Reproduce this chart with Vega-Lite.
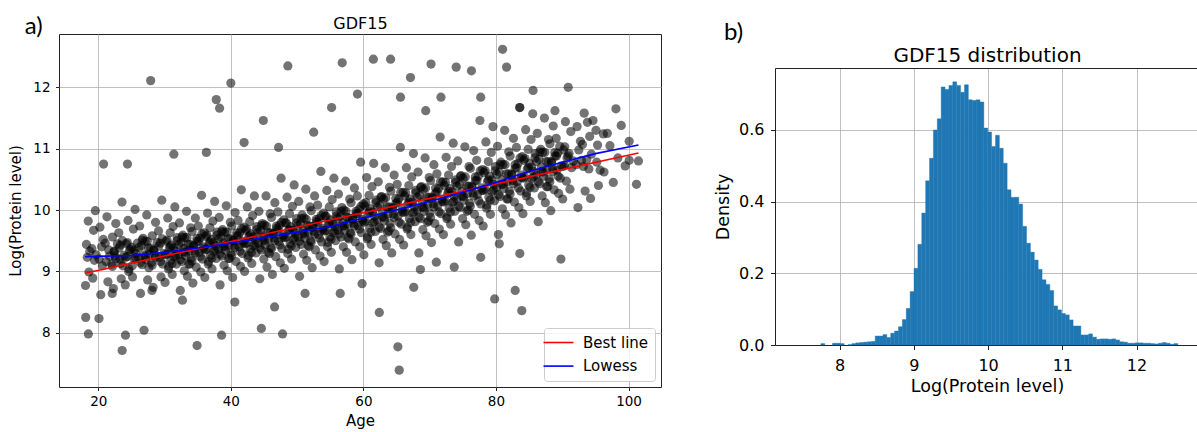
{
"$schema": "https://vega.github.io/schema/vega-lite/v6.json",
"usermeta": {"embedOptions": {"actions": false}},
"background": "white",
"padding": {"left": 8, "top": 14, "right": 0, "bottom": 0},
"spacing": 52,
"resolve": {"legend": {"color": "independent"}, "scale": {"color": "independent"}},
"datasets": {
"pts": [
{"a":18.07,"p":8.77},{"a":18.21,"p":9.44},{"a":18.34,"p":9.23},{"a":18.48,"p":9.82},{"a":18.59,"p":8.99},{"a":18.72,"p":9.33},
{"a":19.03,"p":9.37},{"a":19.16,"p":8.89},{"a":19.29,"p":9.67},{"a":19.42,"p":9.18},{"a":19.55,"p":9.99},{"a":19.66,"p":9.27},
{"a":20.11,"p":9.2},{"a":20.24,"p":9.72},{"a":20.37,"p":8.62},{"a":20.5,"p":9.4},{"a":20.61,"p":9.09},{"a":20.75,"p":9.52},
{"a":21.05,"p":9.46},{"a":21.18,"p":9.16},{"a":21.31,"p":9.89},{"a":21.45,"p":8.83},{"a":21.57,"p":9.35},{"a":21.69,"p":9.25},
{"a":22.02,"p":9.12},{"a":22.14,"p":9.56},{"a":22.27,"p":8.72},{"a":22.39,"p":9.32},{"a":22.53,"p":9.25},{"a":22.64,"p":9.78},
{"a":23.09,"p":9.63},{"a":23.2,"p":9.2},{"a":23.33,"p":9.43},{"a":23.46,"p":8.88},{"a":23.58,"p":10.13},{"a":23.71,"p":9.09},
{"a":24.07,"p":8.78},{"a":24.21,"p":9.45},{"a":24.34,"p":9.24},{"a":24.48,"p":9.83},{"a":24.59,"p":9.0},{"a":24.72,"p":9.34},
{"a":25.03,"p":9.39},{"a":25.16,"p":8.91},{"a":25.29,"p":9.69},{"a":25.42,"p":9.2},{"a":25.55,"p":10.01},{"a":25.66,"p":9.29},
{"a":26.11,"p":9.22},{"a":26.24,"p":9.74},{"a":26.37,"p":8.64},{"a":26.5,"p":9.42},{"a":26.61,"p":9.11},{"a":26.75,"p":9.54},
{"a":27.05,"p":9.49},{"a":27.18,"p":9.19},{"a":27.31,"p":9.92},{"a":27.45,"p":8.86},{"a":27.57,"p":9.38},{"a":27.69,"p":9.28},
{"a":28.02,"p":9.14},{"a":28.14,"p":9.58},{"a":28.27,"p":8.74},{"a":28.39,"p":9.34},{"a":28.53,"p":9.27},{"a":28.64,"p":9.8},
{"a":29.09,"p":9.66},{"a":29.2,"p":9.23},{"a":29.33,"p":9.46},{"a":29.46,"p":8.91},{"a":29.58,"p":10.16},{"a":29.71,"p":9.12},
{"a":30.07,"p":8.82},{"a":30.21,"p":9.49},{"a":30.34,"p":9.28},{"a":30.48,"p":9.87},{"a":30.59,"p":9.04},{"a":30.72,"p":9.38},{"a":30.85,"p":9.63},{"a":30.94,"p":9.18},
{"a":31.03,"p":9.43},{"a":31.16,"p":8.95},{"a":31.29,"p":9.73},{"a":31.42,"p":9.24},{"a":31.55,"p":10.05},{"a":31.66,"p":9.33},{"a":31.79,"p":9.12},{"a":31.91,"p":9.55},
{"a":32.11,"p":9.27},{"a":32.24,"p":9.79},{"a":32.37,"p":8.69},{"a":32.5,"p":9.47},{"a":32.61,"p":9.16},{"a":32.75,"p":9.59},{"a":32.88,"p":9.37},{"a":32.97,"p":9.01},
{"a":33.05,"p":9.55},{"a":33.18,"p":9.25},{"a":33.31,"p":9.98},{"a":33.45,"p":8.92},{"a":33.57,"p":9.44},{"a":33.69,"p":9.34},{"a":33.82,"p":9.12},{"a":33.93,"p":9.71},
{"a":34.02,"p":9.21},{"a":34.14,"p":9.65},{"a":34.27,"p":8.81},{"a":34.39,"p":9.41},{"a":34.53,"p":9.34},{"a":34.64,"p":9.87},{"a":34.77,"p":9.07},{"a":34.9,"p":9.49},
{"a":35.09,"p":9.74},{"a":35.2,"p":9.31},{"a":35.33,"p":9.54},{"a":35.46,"p":8.99},{"a":35.58,"p":10.24},{"a":35.71,"p":9.2},{"a":35.83,"p":9.4},{"a":35.98,"p":9.63},
{"a":36.07,"p":8.9},{"a":36.21,"p":9.57},{"a":36.34,"p":9.36},{"a":36.48,"p":9.95},{"a":36.59,"p":9.12},{"a":36.72,"p":9.46},{"a":36.85,"p":9.71},{"a":36.94,"p":9.26},
{"a":37.03,"p":9.52},{"a":37.16,"p":9.04},{"a":37.29,"p":9.82},{"a":37.42,"p":9.33},{"a":37.55,"p":10.14},{"a":37.66,"p":9.42},{"a":37.79,"p":9.21},{"a":37.91,"p":9.64},
{"a":38.11,"p":9.36},{"a":38.24,"p":9.88},{"a":38.37,"p":8.78},{"a":38.5,"p":9.56},{"a":38.61,"p":9.25},{"a":38.75,"p":9.68},{"a":38.88,"p":9.46},{"a":38.97,"p":9.1},
{"a":39.05,"p":9.64},{"a":39.18,"p":9.34},{"a":39.31,"p":10.07},{"a":39.45,"p":9.01},{"a":39.57,"p":9.53},{"a":39.69,"p":9.43},{"a":39.82,"p":9.21},{"a":39.93,"p":9.8},
{"a":40.02,"p":9.3},{"a":40.14,"p":9.74},{"a":40.27,"p":8.9},{"a":40.39,"p":9.5},{"a":40.53,"p":9.43},{"a":40.64,"p":9.96},{"a":40.77,"p":9.16},{"a":40.9,"p":9.58},
{"a":41.09,"p":9.83},{"a":41.2,"p":9.4},{"a":41.33,"p":9.63},{"a":41.46,"p":9.08},{"a":41.58,"p":10.33},{"a":41.71,"p":9.29},{"a":41.83,"p":9.49},{"a":41.98,"p":9.72},
{"a":42.07,"p":9.0},{"a":42.21,"p":9.67},{"a":42.34,"p":9.46},{"a":42.48,"p":10.05},{"a":42.59,"p":9.22},{"a":42.72,"p":9.56},{"a":42.85,"p":9.81},{"a":42.94,"p":9.36},
{"a":43.03,"p":9.61},{"a":43.16,"p":9.13},{"a":43.29,"p":9.91},{"a":43.42,"p":9.42},{"a":43.55,"p":10.23},{"a":43.66,"p":9.51},{"a":43.79,"p":9.3},{"a":43.91,"p":9.73},
{"a":44.11,"p":9.46},{"a":44.24,"p":9.98},{"a":44.37,"p":8.88},{"a":44.5,"p":9.66},{"a":44.61,"p":9.35},{"a":44.75,"p":9.78},{"a":44.88,"p":9.56},{"a":44.97,"p":9.2},
{"a":45.05,"p":9.76},{"a":45.18,"p":9.43},{"a":45.31,"p":10.23},{"a":45.45,"p":9.07},{"a":45.57,"p":9.64},{"a":45.69,"p":9.53},{"a":45.82,"p":9.29},{"a":45.93,"p":9.94},
{"a":46.02,"p":9.39},{"a":46.14,"p":9.88},{"a":46.27,"p":8.95},{"a":46.39,"p":9.61},{"a":46.53,"p":9.54},{"a":46.64,"p":10.12},{"a":46.77,"p":9.24},{"a":46.9,"p":9.7},
{"a":47.09,"p":9.97},{"a":47.2,"p":9.49},{"a":47.33,"p":9.75},{"a":47.46,"p":9.14},{"a":47.58,"p":10.52},{"a":47.71,"p":9.37},{"a":47.83,"p":9.59},{"a":47.98,"p":9.84},
{"a":48.07,"p":9.05},{"a":48.21,"p":9.79},{"a":48.34,"p":9.56},{"a":48.48,"p":10.21},{"a":48.59,"p":9.29},{"a":48.72,"p":9.67},{"a":48.85,"p":9.94},{"a":48.94,"p":9.45},
{"a":49.03,"p":9.73},{"a":49.16,"p":9.2},{"a":49.29,"p":10.06},{"a":49.42,"p":9.52},{"a":49.55,"p":10.41},{"a":49.66,"p":9.62},{"a":49.79,"p":9.39},{"a":49.91,"p":9.86},
{"a":50.11,"p":9.56},{"a":50.24,"p":10.14},{"a":50.37,"p":8.92},{"a":50.5,"p":9.78},{"a":50.61,"p":9.44},{"a":50.75,"p":9.92},{"a":50.88,"p":9.67},{"a":50.97,"p":9.28},
{"a":51.05,"p":9.87},{"a":51.18,"p":9.54},{"a":51.31,"p":10.34},{"a":51.45,"p":9.18},{"a":51.57,"p":9.75},{"a":51.69,"p":9.64},{"a":51.82,"p":9.4},{"a":51.93,"p":10.05},
{"a":52.02,"p":9.5},{"a":52.14,"p":9.99},{"a":52.27,"p":9.06},{"a":52.39,"p":9.72},{"a":52.53,"p":9.65},{"a":52.64,"p":10.23},{"a":52.77,"p":9.35},{"a":52.9,"p":9.81},
{"a":53.09,"p":10.08},{"a":53.2,"p":9.6},{"a":53.33,"p":9.86},{"a":53.46,"p":9.25},{"a":53.58,"p":10.63},{"a":53.71,"p":9.48},{"a":53.83,"p":9.7},{"a":53.98,"p":9.95},
{"a":54.07,"p":9.16},{"a":54.21,"p":9.9},{"a":54.34,"p":9.67},{"a":54.48,"p":10.32},{"a":54.59,"p":9.4},{"a":54.72,"p":9.78},{"a":54.85,"p":10.05},{"a":54.94,"p":9.56},
{"a":55.03,"p":9.84},{"a":55.16,"p":9.31},{"a":55.29,"p":10.17},{"a":55.42,"p":9.63},{"a":55.55,"p":10.52},{"a":55.66,"p":9.73},{"a":55.79,"p":9.5},{"a":55.91,"p":9.97},
{"a":56.11,"p":9.68},{"a":56.24,"p":10.26},{"a":56.37,"p":9.04},{"a":56.5,"p":9.9},{"a":56.61,"p":9.56},{"a":56.75,"p":10.04},{"a":56.88,"p":9.79},{"a":56.97,"p":9.4},
{"a":57.05,"p":10.0},{"a":57.18,"p":9.67},{"a":57.31,"p":10.47},{"a":57.45,"p":9.31},{"a":57.57,"p":9.88},{"a":57.69,"p":9.77},{"a":57.82,"p":9.53},{"a":57.93,"p":10.18},
{"a":58.02,"p":9.63},{"a":58.14,"p":10.12},{"a":58.27,"p":9.19},{"a":58.39,"p":9.85},{"a":58.53,"p":9.78},{"a":58.64,"p":10.36},{"a":58.77,"p":9.48},{"a":58.9,"p":9.94},
{"a":59.09,"p":10.23},{"a":59.2,"p":9.75},{"a":59.33,"p":10.01},{"a":59.46,"p":9.4},{"a":59.58,"p":10.78},{"a":59.71,"p":9.63},{"a":59.83,"p":9.85},{"a":59.98,"p":10.1},
{"a":60.07,"p":9.27},{"a":60.21,"p":10.07},{"a":60.34,"p":9.82},{"a":60.48,"p":10.53},{"a":60.59,"p":9.53},{"a":60.72,"p":9.94},{"a":60.85,"p":10.24},{"a":60.94,"p":9.7},
{"a":61.03,"p":10.02},{"a":61.16,"p":9.44},{"a":61.29,"p":10.38},{"a":61.42,"p":9.79},{"a":61.55,"p":10.76},{"a":61.66,"p":9.9},{"a":61.79,"p":9.65},{"a":61.91,"p":10.16},
{"a":62.11,"p":9.84},{"a":62.24,"p":10.46},{"a":62.37,"p":9.14},{"a":62.5,"p":10.08},{"a":62.61,"p":9.7},{"a":62.75,"p":10.22},{"a":62.88,"p":9.96},{"a":62.97,"p":9.52},
{"a":63.05,"p":10.18},{"a":63.18,"p":9.82},{"a":63.31,"p":10.69},{"a":63.45,"p":9.42},{"a":63.57,"p":10.05},{"a":63.69,"p":9.93},{"a":63.82,"p":9.66},{"a":63.93,"p":10.37},
{"a":64.02,"p":9.78},{"a":64.14,"p":10.31},{"a":64.27,"p":9.3},{"a":64.39,"p":10.02},{"a":64.53,"p":9.93},{"a":64.64,"p":10.57},{"a":64.77,"p":9.61},{"a":64.9,"p":10.11},
{"a":65.09,"p":10.42},{"a":65.2,"p":9.9},{"a":65.33,"p":10.18},{"a":65.46,"p":9.52},{"a":65.58,"p":11.02},{"a":65.71,"p":9.77},{"a":65.83,"p":10.01},{"a":65.98,"p":10.29},
{"a":66.07,"p":9.43},{"a":66.21,"p":10.23},{"a":66.34,"p":9.98},{"a":66.48,"p":10.69},{"a":66.59,"p":9.69},{"a":66.72,"p":10.1},{"a":66.85,"p":10.4},{"a":66.94,"p":9.86},
{"a":67.03,"p":10.18},{"a":67.16,"p":9.6},{"a":67.29,"p":10.54},{"a":67.42,"p":9.95},{"a":67.55,"p":10.92},{"a":67.66,"p":10.06},{"a":67.79,"p":9.81},{"a":67.91,"p":10.32},
{"a":68.11,"p":10.0},{"a":68.24,"p":10.62},{"a":68.37,"p":9.3},{"a":68.5,"p":10.24},{"a":68.61,"p":9.86},{"a":68.75,"p":10.38},{"a":68.88,"p":10.12},{"a":68.97,"p":9.68},
{"a":69.05,"p":10.34},{"a":69.18,"p":9.98},{"a":69.31,"p":10.85},{"a":69.45,"p":9.58},{"a":69.57,"p":10.21},{"a":69.69,"p":10.09},{"a":69.82,"p":9.82},{"a":69.93,"p":10.53},
{"a":70.02,"p":9.95},{"a":70.14,"p":10.48},{"a":70.27,"p":9.47},{"a":70.39,"p":10.19},{"a":70.53,"p":10.1},{"a":70.64,"p":10.74},{"a":70.77,"p":9.78},{"a":70.9,"p":10.28},
{"a":71.09,"p":10.59},{"a":71.2,"p":10.07},{"a":71.33,"p":10.35},{"a":71.46,"p":9.69},{"a":71.58,"p":11.19},{"a":71.71,"p":9.94},{"a":71.83,"p":10.18},{"a":71.98,"p":10.46},
{"a":72.07,"p":9.6},{"a":72.21,"p":10.4},{"a":72.34,"p":10.15},{"a":72.48,"p":10.86},{"a":72.59,"p":9.86},{"a":72.72,"p":10.27},{"a":72.85,"p":10.57},{"a":72.94,"p":10.03},
{"a":73.03,"p":10.35},{"a":73.16,"p":9.77},{"a":73.29,"p":10.71},{"a":73.42,"p":10.12},{"a":73.55,"p":11.09},{"a":73.66,"p":10.23},{"a":73.79,"p":9.98},{"a":73.91,"p":10.49},
{"a":74.11,"p":10.18},{"a":74.24,"p":10.8},{"a":74.37,"p":9.48},{"a":74.5,"p":10.42},{"a":74.61,"p":10.04},{"a":74.75,"p":10.56},{"a":74.88,"p":10.3},{"a":74.97,"p":9.86},
{"a":75.05,"p":10.52},{"a":75.18,"p":10.16},{"a":75.31,"p":11.03},{"a":75.45,"p":9.76},{"a":75.57,"p":10.39},{"a":75.69,"p":10.27},{"a":75.82,"p":10.0},{"a":75.93,"p":10.71},
{"a":76.02,"p":10.11},{"a":76.14,"p":10.68},{"a":76.27,"p":9.59},{"a":76.39,"p":10.37},{"a":76.53,"p":10.28},{"a":76.64,"p":10.97},{"a":76.77,"p":9.93},{"a":76.9,"p":10.48},
{"a":77.09,"p":10.81},{"a":77.2,"p":10.25},{"a":77.33,"p":10.55},{"a":77.46,"p":9.83},{"a":77.58,"p":11.46},{"a":77.71,"p":10.1},{"a":77.83,"p":10.36},{"a":77.98,"p":10.66},
{"a":78.07,"p":9.74},{"a":78.21,"p":10.61},{"a":78.34,"p":10.34},{"a":78.48,"p":11.11},{"a":78.59,"p":10.03},{"a":78.72,"p":10.47},{"a":78.85,"p":10.79},{"a":78.94,"p":10.21},
{"a":79.03,"p":10.55},{"a":79.16,"p":9.93},{"a":79.29,"p":10.94},{"a":79.42,"p":10.3},{"a":79.55,"p":11.36},{"a":79.66,"p":10.42},{"a":79.79,"p":10.15},{"a":79.91,"p":10.71},
{"a":80.11,"p":10.36},{"a":80.24,"p":11.04},{"a":80.37,"p":9.6},{"a":80.5,"p":10.62},{"a":80.61,"p":10.22},{"a":80.75,"p":10.78},{"a":80.88,"p":10.49},{"a":80.97,"p":10.02},
{"a":81.05,"p":10.74},{"a":81.18,"p":10.35},{"a":81.31,"p":11.3},{"a":81.45,"p":9.92},{"a":81.57,"p":10.59},{"a":81.69,"p":10.46},{"a":81.82,"p":10.18},{"a":81.93,"p":10.95},
{"a":82.02,"p":10.31},{"a":82.14,"p":10.88},{"a":82.27,"p":9.79},{"a":82.39,"p":10.57},{"a":82.53,"p":10.48},{"a":82.64,"p":11.17},{"a":82.77,"p":10.13},{"a":82.9,"p":10.68},
{"a":83.09,"p":11.02},{"a":83.2,"p":10.46},{"a":83.33,"p":10.76},{"a":83.46,"p":10.04},{"a":83.58,"p":11.67},{"a":83.71,"p":10.31},{"a":83.83,"p":10.57},{"a":83.98,"p":10.87},
{"a":84.07,"p":9.94},{"a":84.21,"p":10.81},{"a":84.34,"p":10.54},{"a":84.48,"p":11.31},{"a":84.59,"p":10.23},{"a":84.72,"p":10.67},{"a":84.85,"p":10.99},{"a":84.94,"p":10.41},
{"a":85.03,"p":10.76},{"a":85.16,"p":10.14},{"a":85.29,"p":11.15},{"a":85.42,"p":10.51},{"a":85.55,"p":11.57},{"a":85.66,"p":10.63},{"a":85.79,"p":10.36},{"a":85.91,"p":10.92},
{"a":86.11,"p":10.57},{"a":86.24,"p":11.25},{"a":86.37,"p":9.81},{"a":86.5,"p":10.83},{"a":86.61,"p":10.43},{"a":86.75,"p":10.99},{"a":86.88,"p":10.7},{"a":86.97,"p":10.23},
{"a":87.05,"p":10.94},{"a":87.18,"p":10.55},{"a":87.31,"p":11.5},{"a":87.45,"p":10.12},{"a":87.57,"p":10.79},{"a":87.69,"p":10.66},{"a":87.82,"p":10.38},{"a":87.93,"p":11.15},
{"a":88.02,"p":10.51},{"a":88.14,"p":11.08},{"a":88.27,"p":9.99},{"a":88.39,"p":10.77},{"a":88.53,"p":10.68},{"a":88.64,"p":11.37},{"a":88.77,"p":10.33},{"a":88.9,"p":10.88},
{"a":89.09,"p":11.17},{"a":89.2,"p":10.65},{"a":89.33,"p":10.93},{"a":89.46,"p":10.27},{"a":89.71,"p":10.52},
{"a":90.07,"p":10.18},{"a":90.21,"p":10.98},{"a":90.34,"p":10.73},{"a":90.48,"p":11.44},{"a":90.72,"p":10.85},
{"a":91.03,"p":10.92},{"a":91.16,"p":10.34},{"a":91.29,"p":11.28},{"a":91.42,"p":10.69},{"a":91.66,"p":10.8},
{"a":92.11,"p":10.74},{"a":92.24,"p":11.36},{"a":92.37,"p":10.04},{"a":92.5,"p":10.98},{"a":92.75,"p":11.12},
{"a":93.05,"p":11.07},{"a":93.18,"p":10.71},{"a":93.31,"p":11.58},{"a":93.45,"p":10.31},{"a":93.69,"p":10.82},
{"a":94.02,"p":10.67},{"a":94.14,"p":11.2},{"a":94.27,"p":10.19},{"a":94.39,"p":10.91},{"a":94.64,"p":11.46},
{"a":95.09,"p":11.3},{"a":95.2,"p":10.78},{"a":95.33,"p":11.06},{"a":95.46,"p":10.4},{"a":95.71,"p":10.65},
{"a":96.3,"p":10.62},{"a":96.8,"p":11.25},{"a":97.2,"p":11.05},{"a":97.7,"p":10.45},{"a":98.4,"p":10.85},{"a":98.9,"p":11.38},{"a":99.5,"p":10.72},{"a":100.1,"p":11.12},{"a":101.2,"p":10.42},{"a":101.5,"p":10.8},
{"a":27.9,"p":12.11},{"a":37.8,"p":11.8},{"a":38.3,"p":11.66},{"a":40.0,"p":12.07},{"a":48.6,"p":12.35},{"a":56.8,"p":12.4},{"a":61.5,"p":12.46},{"a":64.1,"p":12.46},{"a":67.1,"p":12.16},{"a":70.2,"p":12.38},{"a":81.0,"p":12.62},{"a":81.6,"p":12.33},{"a":76.3,"p":12.27},{"a":74.0,"p":12.33},{"a":85.6,"p":11.95},{"a":90.9,"p":12.0},{"a":98.1,"p":11.65},{"a":100.1,"p":10.81},{"a":92.9,"p":10.81},
{"a":18.5,"p":7.98},{"a":18.1,"p":8.25},{"a":23.6,"p":7.71},{"a":20.1,"p":8.23},{"a":24.1,"p":7.96},{"a":26.9,"p":8.04},{"a":34.9,"p":7.79},{"a":38.6,"p":7.96},{"a":44.6,"p":8.07},{"a":47.8,"p":7.98},{"a":62.4,"p":8.33},{"a":65.2,"p":7.77},{"a":65.4,"p":7.39},{"a":67.6,"p":8.74},{"a":79.8,"p":8.55},{"a":83.9,"p":8.36},{"a":82.9,"p":8.69},{"a":77.7,"p":9.23},{"a":83.6,"p":9.29},{"a":89.8,"p":9.2},{"a":71.0,"p":9.15},{"a":68.6,"p":9.03},{"a":80.5,"p":9.45},
{"a":44.9,"p":11.46},{"a":52.5,"p":11.27},{"a":55.2,"p":11.67},{"a":59.1,"p":11.89},{"a":65.6,"p":11.84},{"a":69.4,"p":11.62},{"a":71.7,"p":11.84},{"a":77.7,"p":11.84},{"a":83.6,"p":11.67},{"a":88.9,"p":11.62},{"a":93.8,"p":11.43},{"a":96.2,"p":11.24},{"a":20.8,"p":10.75},{"a":24.4,"p":10.75},{"a":31.4,"p":10.91},{"a":36.3,"p":10.94},{"a":42.0,"p":11.1},{"a":47.2,"p":11.02},
{"a":22.1,"p":8.64},{"a":28.1,"p":8.69},{"a":32.7,"p":8.53},{"a":40.6,"p":8.5},{"a":46.6,"p":8.42},{"a":51.2,"p":8.64},{"a":56.5,"p":8.64},{"a":59.8,"p":8.8},{"a":73.7,"p":9.07},
{"a":22.13,"p":9.08},{"a":22.38,"p":9.33},{"a":22.63,"p":9.21},{"a":22.88,"p":9.45},
{"a":23.13,"p":9.38},{"a":23.38,"p":9.13},{"a":23.63,"p":9.5},{"a":23.88,"p":9.26},
{"a":24.13,"p":9.23},{"a":24.38,"p":9.47},{"a":24.63,"p":9.04},{"a":24.88,"p":9.36},
{"a":25.13,"p":9.09},{"a":25.38,"p":9.34},{"a":25.63,"p":9.22},{"a":25.88,"p":9.46},
{"a":26.13,"p":9.39},{"a":26.38,"p":9.14},{"a":26.63,"p":9.51},{"a":26.88,"p":9.27},
{"a":27.13,"p":9.25},{"a":27.38,"p":9.49},{"a":27.63,"p":9.06},{"a":27.88,"p":9.38},
{"a":28.13,"p":9.1},{"a":28.38,"p":9.35},{"a":28.63,"p":9.23},{"a":28.88,"p":9.47},
{"a":29.13,"p":9.41},{"a":29.38,"p":9.16},{"a":29.63,"p":9.53},{"a":29.88,"p":9.29},
{"a":30.13,"p":9.27},{"a":30.38,"p":9.51},{"a":30.63,"p":9.08},{"a":30.88,"p":9.4},
{"a":31.13,"p":9.13},{"a":31.38,"p":9.38},{"a":31.63,"p":9.26},{"a":31.88,"p":9.5},
{"a":32.13,"p":9.44},{"a":32.38,"p":9.19},{"a":32.63,"p":9.56},{"a":32.88,"p":9.32},
{"a":33.13,"p":9.31},{"a":33.38,"p":9.55},{"a":33.63,"p":9.12},{"a":33.88,"p":9.44},
{"a":34.13,"p":9.17},{"a":34.38,"p":9.42},{"a":34.63,"p":9.3},{"a":34.88,"p":9.54},
{"a":35.13,"p":9.49},{"a":35.38,"p":9.24},{"a":35.63,"p":9.61},{"a":35.88,"p":9.37},
{"a":36.13,"p":9.35},{"a":36.38,"p":9.59},{"a":36.63,"p":9.16},{"a":36.88,"p":9.48},
{"a":37.13,"p":9.22},{"a":37.38,"p":9.47},{"a":37.63,"p":9.35},{"a":37.88,"p":9.59},
{"a":38.13,"p":9.53},{"a":38.38,"p":9.28},{"a":38.63,"p":9.65},{"a":38.88,"p":9.41},
{"a":39.13,"p":9.4},{"a":39.38,"p":9.64},{"a":39.63,"p":9.21},{"a":39.88,"p":9.53},
{"a":40.13,"p":9.26},{"a":40.38,"p":9.51},{"a":40.63,"p":9.39},{"a":40.88,"p":9.63},
{"a":41.13,"p":9.58},{"a":41.38,"p":9.33},{"a":41.63,"p":9.7},{"a":41.88,"p":9.46},
{"a":42.13,"p":9.45},{"a":42.38,"p":9.69},{"a":42.63,"p":9.26},{"a":42.88,"p":9.58},
{"a":43.13,"p":9.31},{"a":43.38,"p":9.56},{"a":43.63,"p":9.44},{"a":43.88,"p":9.68},
{"a":44.13,"p":9.63},{"a":44.38,"p":9.38},{"a":44.63,"p":9.75},{"a":44.88,"p":9.51},
{"a":45.13,"p":9.5},{"a":45.38,"p":9.74},{"a":45.63,"p":9.31},{"a":45.88,"p":9.63},
{"a":46.13,"p":9.37},{"a":46.38,"p":9.62},{"a":46.63,"p":9.5},{"a":46.88,"p":9.74},
{"a":47.13,"p":9.68},{"a":47.38,"p":9.43},{"a":47.63,"p":9.8},{"a":47.88,"p":9.56},
{"a":48.13,"p":9.55},{"a":48.38,"p":9.79},{"a":48.63,"p":9.36},{"a":48.88,"p":9.68},
{"a":49.13,"p":9.42},{"a":49.38,"p":9.67},{"a":49.63,"p":9.55},{"a":49.88,"p":9.79},
{"a":50.13,"p":9.74},{"a":50.38,"p":9.49},{"a":50.63,"p":9.86},{"a":50.88,"p":9.62},
{"a":51.13,"p":9.61},{"a":51.38,"p":9.85},{"a":51.63,"p":9.42},{"a":51.88,"p":9.74},
{"a":52.13,"p":9.48},{"a":52.38,"p":9.73},{"a":52.63,"p":9.61},{"a":52.88,"p":9.85},
{"a":53.13,"p":9.79},{"a":53.38,"p":9.54},{"a":53.63,"p":9.91},{"a":53.88,"p":9.67},
{"a":54.13,"p":9.66},{"a":54.38,"p":9.9},{"a":54.63,"p":9.47},{"a":54.88,"p":9.79},
{"a":55.13,"p":9.53},{"a":55.38,"p":9.78},{"a":55.63,"p":9.66},{"a":55.88,"p":9.9},
{"a":56.13,"p":9.86},{"a":56.38,"p":9.61},{"a":56.63,"p":9.98},{"a":56.88,"p":9.74},
{"a":57.13,"p":9.74},{"a":57.38,"p":9.98},{"a":57.63,"p":9.55},{"a":57.88,"p":9.87},
{"a":58.13,"p":9.61},{"a":58.38,"p":9.86},{"a":58.63,"p":9.74},{"a":58.88,"p":9.98},
{"a":59.13,"p":9.94},{"a":59.38,"p":9.69},{"a":59.63,"p":10.06},{"a":59.88,"p":9.82},
{"a":60.13,"p":9.8},{"a":60.38,"p":10.12},{"a":60.63,"p":9.56},{"a":60.88,"p":9.97},
{"a":61.13,"p":9.64},{"a":61.38,"p":9.97},{"a":61.63,"p":9.81},{"a":61.88,"p":10.12},
{"a":62.13,"p":10.05},{"a":62.38,"p":9.72},{"a":62.63,"p":10.21},{"a":62.88,"p":9.89},
{"a":63.13,"p":9.88},{"a":63.38,"p":10.2},{"a":63.63,"p":9.64},{"a":63.88,"p":10.05},
{"a":64.13,"p":9.71},{"a":64.38,"p":10.04},{"a":64.63,"p":9.88},{"a":64.88,"p":10.19},
{"a":65.13,"p":10.13},{"a":65.38,"p":9.8},{"a":65.63,"p":10.29},{"a":65.88,"p":9.97},
{"a":66.13,"p":9.96},{"a":66.38,"p":10.28},{"a":66.63,"p":9.72},{"a":66.88,"p":10.13},
{"a":67.13,"p":9.8},{"a":67.38,"p":10.13},{"a":67.63,"p":9.97},{"a":67.88,"p":10.28},
{"a":68.13,"p":10.21},{"a":68.38,"p":9.88},{"a":68.63,"p":10.37},{"a":68.88,"p":10.05},
{"a":69.13,"p":10.04},{"a":69.38,"p":10.36},{"a":69.63,"p":9.8},{"a":69.88,"p":10.21},
{"a":70.13,"p":9.88},{"a":70.38,"p":10.21},{"a":70.63,"p":10.05},{"a":70.88,"p":10.36},
{"a":71.13,"p":10.3},{"a":71.38,"p":9.97},{"a":71.63,"p":10.46},{"a":71.88,"p":10.14},
{"a":72.13,"p":10.13},{"a":72.38,"p":10.45},{"a":72.63,"p":9.89},{"a":72.88,"p":10.3},
{"a":73.13,"p":9.97},{"a":73.38,"p":10.3},{"a":73.63,"p":10.14},{"a":73.88,"p":10.45},
{"a":74.13,"p":10.39},{"a":74.38,"p":10.06},{"a":74.63,"p":10.55},{"a":74.88,"p":10.23},
{"a":75.13,"p":10.22},{"a":75.38,"p":10.54},{"a":75.63,"p":9.98},{"a":75.88,"p":10.39},
{"a":76.13,"p":10.06},{"a":76.38,"p":10.39},{"a":76.63,"p":10.23},{"a":76.88,"p":10.54},
{"a":77.13,"p":10.48},{"a":77.38,"p":10.15},{"a":77.63,"p":10.64},{"a":77.88,"p":10.32},
{"a":78.13,"p":10.32},{"a":78.38,"p":10.64},{"a":78.63,"p":10.08},{"a":78.88,"p":10.49},
{"a":79.13,"p":10.16},{"a":79.38,"p":10.49},{"a":79.63,"p":10.33},{"a":79.88,"p":10.64},
{"a":80.13,"p":10.58},{"a":80.38,"p":10.25},{"a":80.63,"p":10.74},{"a":80.88,"p":10.42},
{"a":81.13,"p":10.42},{"a":81.38,"p":10.74},{"a":81.63,"p":10.18},{"a":81.88,"p":10.59},
{"a":82.13,"p":10.26},{"a":82.38,"p":10.59},{"a":82.63,"p":10.43},{"a":82.88,"p":10.74},
{"a":83.13,"p":10.69},{"a":83.38,"p":10.36},{"a":83.63,"p":10.85},{"a":83.88,"p":10.53},
{"a":84.13,"p":10.52},{"a":84.38,"p":10.84},{"a":84.63,"p":10.28},{"a":84.88,"p":10.69},
{"a":85.13,"p":10.37},{"a":85.38,"p":10.7},{"a":85.63,"p":10.54},{"a":85.88,"p":10.85},
{"a":86.13,"p":10.79},{"a":86.38,"p":10.46},{"a":86.63,"p":10.95},{"a":86.88,"p":10.63},
{"a":87.13,"p":10.62},{"a":87.38,"p":10.94},{"a":87.63,"p":10.38},{"a":87.88,"p":10.79},
{"a":88.13,"p":10.46},{"a":88.38,"p":10.79},{"a":88.63,"p":10.63},{"a":88.88,"p":10.94},
{"a":89.13,"p":10.88},{"a":89.38,"p":10.55},{"a":89.63,"p":11.04},{"a":89.88,"p":10.72},
{"a":90.13,"p":10.71},{"a":90.38,"p":11.03},{"a":90.63,"p":10.47},{"a":90.88,"p":10.88}
],
"fit": [
{"s":"Best line","a":18,"p":8.97},{"s":"Best line","a":101.5,"p":10.93},
{"s":"Lowess","a":18,"p":9.24},{"s":"Lowess","a":25,"p":9.26},{"s":"Lowess","a":30,"p":9.31},{"s":"Lowess","a":35,"p":9.38},{"s":"Lowess","a":40,"p":9.46},{"s":"Lowess","a":45,"p":9.55},{"s":"Lowess","a":50,"p":9.64},{"s":"Lowess","a":55,"p":9.73},{"s":"Lowess","a":60,"p":9.87},{"s":"Lowess","a":65,"p":10.0},{"s":"Lowess","a":70,"p":10.14},{"s":"Lowess","a":75,"p":10.29},{"s":"Lowess","a":80,"p":10.45},{"s":"Lowess","a":85,"p":10.63},{"s":"Lowess","a":90,"p":10.78},{"s":"Lowess","a":95,"p":10.92},{"s":"Lowess","a":101.5,"p":11.06}
],
"hist": [
{"x0":7.7461,"x1":7.7984,"d":0.004},{"x0":7.903,"x1":7.9553,"d":0.005},{"x0":7.9553,"x1":8.0076,"d":0.005},{"x0":8.0076,"x1":8.0599,"d":0.004},{"x0":8.1122,"x1":8.1645,"d":0.001},
{"x0":8.1645,"x1":8.2168,"d":0.004},{"x0":8.2168,"x1":8.2691,"d":0.006},{"x0":8.2691,"x1":8.3214,"d":0.007},{"x0":8.3214,"x1":8.3737,"d":0.008},{"x0":8.3737,"x1":8.426,"d":0.009},
{"x0":8.426,"x1":8.4783,"d":0.010},{"x0":8.4783,"x1":8.5306,"d":0.025},{"x0":8.5306,"x1":8.5829,"d":0.025},{"x0":8.5829,"x1":8.6352,"d":0.029},{"x0":8.6352,"x1":8.6875,"d":0.021},
{"x0":8.6875,"x1":8.7398,"d":0.033},{"x0":8.7398,"x1":8.7921,"d":0.039},{"x0":8.7921,"x1":8.8444,"d":0.051},{"x0":8.8444,"x1":8.8967,"d":0.071},{"x0":8.8967,"x1":8.949,"d":0.102},
{"x0":8.949,"x1":9.0013,"d":0.149},{"x0":9.0013,"x1":9.0536,"d":0.214},{"x0":9.0536,"x1":9.1059,"d":0.281},{"x0":9.1059,"x1":9.1582,"d":0.368},{"x0":9.1582,"x1":9.2105,"d":0.458},
{"x0":9.2105,"x1":9.2628,"d":0.521},{"x0":9.2628,"x1":9.3151,"d":0.600},{"x0":9.3151,"x1":9.3674,"d":0.631},{"x0":9.3674,"x1":9.4197,"d":0.720},{"x0":9.4197,"x1":9.472,"d":0.713},
{"x0":9.472,"x1":9.5243,"d":0.724},{"x0":9.5243,"x1":9.5766,"d":0.734},{"x0":9.5766,"x1":9.6289,"d":0.724},{"x0":9.6289,"x1":9.6812,"d":0.705},{"x0":9.6812,"x1":9.7335,"d":0.726},
{"x0":9.7335,"x1":9.7858,"d":0.684},{"x0":9.7858,"x1":9.8381,"d":0.682},{"x0":9.8381,"x1":9.8904,"d":0.684},{"x0":9.8904,"x1":9.9427,"d":0.678},{"x0":9.9427,"x1":9.995,"d":0.605},
{"x0":9.995,"x1":10.0473,"d":0.594},{"x0":10.0473,"x1":10.0996,"d":0.554},{"x0":10.0996,"x1":10.1519,"d":0.585},{"x0":10.1519,"x1":10.2042,"d":0.549},{"x0":10.2042,"x1":10.2565,"d":0.507},
{"x0":10.2565,"x1":10.3088,"d":0.433},{"x0":10.3088,"x1":10.3611,"d":0.412},{"x0":10.3611,"x1":10.4134,"d":0.412},{"x0":10.4134,"x1":10.4657,"d":0.393},{"x0":10.4657,"x1":10.518,"d":0.331},
{"x0":10.518,"x1":10.5703,"d":0.284},{"x0":10.5703,"x1":10.6226,"d":0.259},{"x0":10.6226,"x1":10.6749,"d":0.237},{"x0":10.6749,"x1":10.7272,"d":0.211},{"x0":10.7272,"x1":10.7795,"d":0.182},
{"x0":10.7795,"x1":10.8318,"d":0.169},{"x0":10.8318,"x1":10.8841,"d":0.152},{"x0":10.8841,"x1":10.9364,"d":0.109},{"x0":10.9364,"x1":10.9887,"d":0.098},{"x0":10.9887,"x1":11.041,"d":0.088},
{"x0":11.041,"x1":11.0933,"d":0.084},{"x0":11.0933,"x1":11.1456,"d":0.070},{"x0":11.1456,"x1":11.1979,"d":0.053},{"x0":11.1979,"x1":11.2502,"d":0.053},{"x0":11.2502,"x1":11.3025,"d":0.028},
{"x0":11.3025,"x1":11.3548,"d":0.028},{"x0":11.3548,"x1":11.4071,"d":0.031},{"x0":11.4071,"x1":11.4594,"d":0.022},{"x0":11.4594,"x1":11.5117,"d":0.016},{"x0":11.5117,"x1":11.564,"d":0.017},
{"x0":11.564,"x1":11.6163,"d":0.017},{"x0":11.6163,"x1":11.6686,"d":0.016},{"x0":11.6686,"x1":11.7209,"d":0.017},{"x0":11.7209,"x1":11.7732,"d":0.014},{"x0":11.7732,"x1":11.8255,"d":0.009},
{"x0":11.8255,"x1":11.8778,"d":0.008},{"x0":11.8778,"x1":11.9301,"d":0.005},{"x0":11.9301,"x1":11.9824,"d":0.005},{"x0":11.9824,"x1":12.0347,"d":0.006},{"x0":12.0347,"x1":12.087,"d":0.006},
{"x0":12.087,"x1":12.1393,"d":0.005},{"x0":12.1393,"x1":12.1916,"d":0.005},{"x0":12.1916,"x1":12.2439,"d":0.004},{"x0":12.2439,"x1":12.2962,"d":0.003},{"x0":12.2962,"x1":12.3485,"d":0.005},
{"x0":12.3485,"x1":12.4008,"d":0.007},{"x0":12.4008,"x1":12.4531,"d":0.005},{"x0":12.4531,"x1":12.5054,"d":0.002},{"x0":12.5054,"x1":12.5577,"d":0.004}
]
},
"hconcat": [
{
"width": 602, "height": 353,
"resolve": {"axis": {"x": "independent"}},
"layer": [
{
"data": {"name": "pts"},
"mark": {"type": "circle", "size": 85, "opacity": 0.55, "color": "#000"},
"encoding": {
"x": {"field": "a", "type": "quantitative", "scale": {"domain": [14.07, 104.9], "nice": false, "zero": false},
"axis": {"orient": "bottom", "values": [20, 40, 60, 80, 100], "format": "d", "title": "Age", "labelFontSize": 13.5, "titleFontSize": 15, "tickSize": 3.5, "labelPadding": 3.5, "titlePadding": 6, "grid": true}},
"y": {"field": "p", "type": "quantitative", "scale": {"domain": [7.115, 12.87], "nice": false, "zero": false},
"axis": {"values": [8, 9, 10, 11, 12], "format": "d", "title": "Log(Protein level)", "labelFontSize": 13.5, "titleFontSize": 15, "tickSize": 3.5, "labelPadding": 5.5, "titlePadding": 9, "grid": true}}
}
},
{
"data": {"name": "fit"},
"mark": {"type": "line", "strokeWidth": 1.6},
"encoding": {
"x": {"field": "a", "type": "quantitative", "scale": {"domain": [14.07, 104.9], "nice": false, "zero": false}, "axis": null},
"y": {"field": "p", "type": "quantitative", "scale": {"domain": [7.115, 12.87], "nice": false, "zero": false}},
"color": {"field": "s", "type": "nominal", "scale": {"domain": ["Best line", "Lowess"], "range": ["#ff0000", "#0000ff"]},
"legend": {"orient": "bottom-right", "title": null, "offset": 6, "fillColor": "rgba(255,255,255,0.8)", "strokeColor": "#cccccc", "cornerRadius": 3, "padding": 6, "labelFontSize": 15, "labelColor": "#000", "symbolType": "M-2,0L2,0", "symbolSize": 225, "symbolStrokeWidth": 1.6, "symbolOffset": 0, "labelOffset": 16, "rowPadding": 6.6}}
}
},
{
"data": {"values": [{"t": "a)"}]},
"mark": {"type": "text", "font": "Lato", "fontSize": 24, "align": "left", "baseline": "alphabetic", "color": "#000"},
"encoding": {
"text": {"field": "t"},
"x": {"datum": 8.9, "type": "quantitative", "scale": {"domain": [14.07, 104.9], "nice": false, "zero": false},
"axis": {"orient": "top", "labels": false, "ticks": false, "grid": false, "domain": false, "title": "GDF15", "titleFontSize": 16, "titleY": -6, "titleBaseline": "alphabetic"}},
"y": {"datum": 12.875, "type": "quantitative", "scale": {"domain": [7.115, 12.87], "nice": false, "zero": false}}
}
}
]
},
{
"spacing": 0,
"resolve": {"scale": {"x": "independent", "y": "independent"}},
"vconcat": [
{
"width": 424, "height": 11,
"view": {"stroke": null},
"data": {"values": [{"t": "b)"}]},
"mark": {"type": "text", "font": "Lato", "fontSize": 24, "align": "left", "baseline": "alphabetic", "color": "#000"},
"encoding": {
"text": {"field": "t"},
"x": {"datum": 6.44, "type": "quantitative", "scale": {"domain": [7.128, 12.842], "nice": false, "zero": false}, "axis": null},
"y": {"datum": 5, "type": "quantitative", "scale": {"domain": [0, 11], "nice": false, "zero": false}, "axis": null}
}
},
{
"width": 424, "height": 277,
"view": {"stroke": null},
"resolve": {"axis": {"x": "independent"}},
"layer": [
{
"data": {"name": "hist"},
"mark": {"type": "rect", "color": "#1f77b4", "stroke": "#1f77b4", "strokeWidth": 0.4},
"encoding": {
"x": {"field": "x0", "type": "quantitative", "scale": {"domain": [7.128, 12.842], "nice": false, "zero": false},
"axis": {"orient": "bottom", "values": [8, 9, 10, 11, 12], "format": "d", "title": "Log(Protein level)", "labelFontSize": 16, "titleFontSize": 17.5, "tickSize": 4.5, "labelPadding": 8, "titlePadding": 4, "grid": true, "domain": true, "domainColor": "#222"}},
"x2": {"field": "x1"},
"y": {"field": "d", "type": "quantitative", "scale": {"domain": [0, 0.7727], "nice": false, "zero": false},
"axis": {"values": [0, 0.2, 0.4, 0.6], "format": ".1f", "title": "Density", "labelFontSize": 16, "titleFontSize": 17.5, "tickSize": 4.5, "labelPadding": 6.5, "titlePadding": 6.5, "grid": true, "domain": true, "domainColor": "#222"}},
"y2": {"datum": 0}
}
},
{
"data": {"name": "hist"},
"mark": {"type": "rect", "opacity": 0},
"encoding": {
"x": {"field": "x0", "type": "quantitative", "scale": {"domain": [7.128, 12.842], "nice": false, "zero": false},
"axis": {"orient": "top", "labels": false, "ticks": false, "grid": false, "domain": true, "domainColor": "#222", "title": "GDF15 distribution", "titleFontSize": 20, "titleY": -6.5, "titleBaseline": "alphabetic"}},
"x2": {"field": "x1"},
"y": {"field": "d", "type": "quantitative", "scale": {"domain": [0, 0.7727], "nice": false, "zero": false}},
"y2": {"datum": 0}
}
}
]
}
]
}
],
"config": {
"font": "DejaVu Sans",
"view": {"stroke": "#222", "strokeWidth": 1},
"axis": {"gridColor": "#b0b0b0", "gridWidth": 0.8, "gridOpacity": 1, "tickColor": "#222", "tickWidth": 1, "labelColor": "#000", "titleColor": "#000", "titleFontWeight": "normal", "labelFont": "DejaVu Sans", "titleFont": "DejaVu Sans", "domain": false, "zindex": 1, "labelFlush": false, "labelOverlap": false},
"legend": {"labelFont": "DejaVu Sans"},
"title": {"font": "DejaVu Sans"}
}
}
